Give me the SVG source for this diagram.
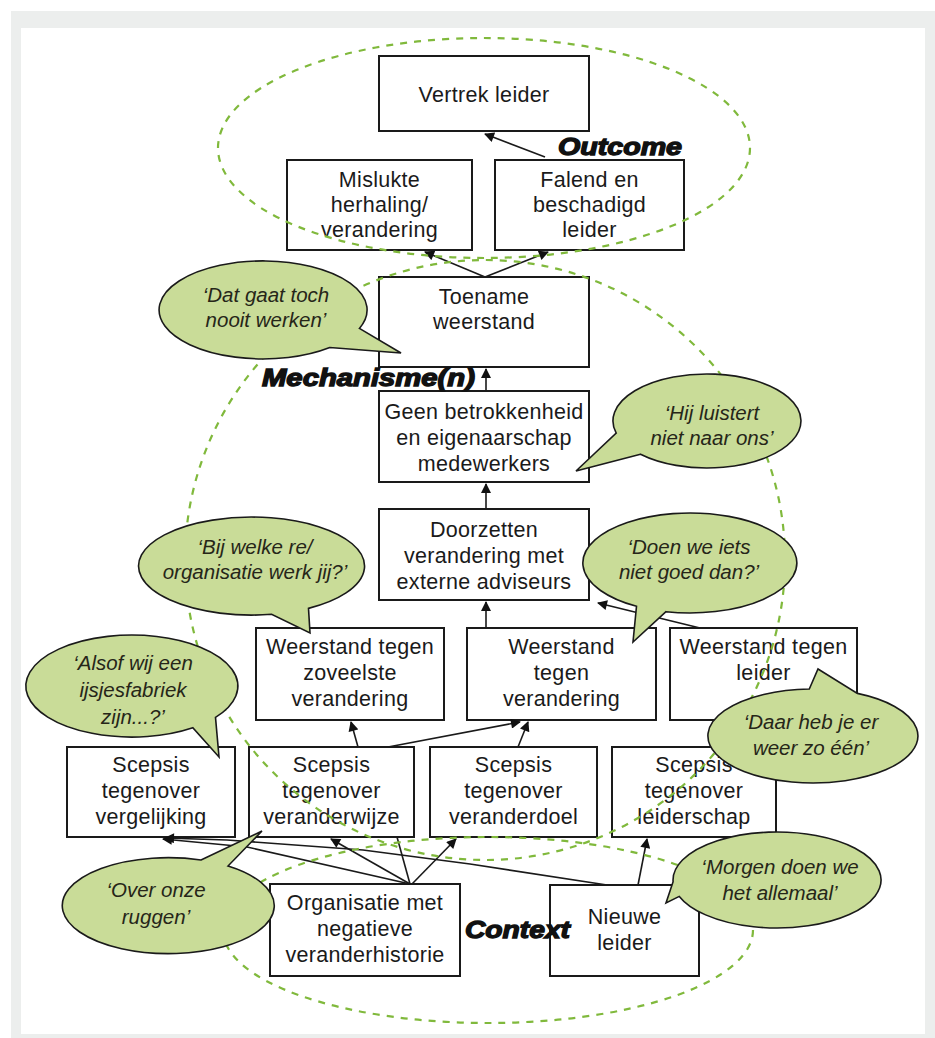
<svg xmlns="http://www.w3.org/2000/svg" width="935" height="1038" viewBox="0 0 935 1038">
<defs>
<style>
.box{fill:#fff;stroke:#1a1a1a;stroke-width:2}
.t{font-family:"Liberation Sans",Arial,sans-serif;font-size:21.5px;fill:#1a1a1a;text-anchor:middle;letter-spacing:0.3px}
.q{font-family:"Liberation Sans",Arial,sans-serif;font-style:italic;font-size:20.5px;fill:#262618;text-anchor:middle}
.bub{fill:#c9dc98;stroke:#1a1a1a;stroke-width:1.6}
.zone{fill:none;stroke:#80b93c;stroke-width:2.2;stroke-dasharray:7 7}
.lbl{font-family:"Liberation Sans",Arial,sans-serif;font-weight:bold;font-style:italic;font-size:23px;fill:#111;stroke:#111;stroke-width:1.3}
.c{fill:none;stroke:#1a1a1a;stroke-width:1.6}
.a{marker-end:url(#ah)}
</style>
<marker id="ah" viewBox="0 0 10 10" refX="9" refY="5" markerWidth="11" markerHeight="10" markerUnits="userSpaceOnUse" orient="auto">
<path d="M0,0 L10,5 L0,10 Z" fill="#111"/>
</marker>
</defs>

<rect x="11" y="11" width="924" height="1027" fill="#eceeed"/>
<rect x="21" y="28" width="904" height="1006" fill="#fff"/>

<g id="vertrek"><rect class="box" x="379" y="56" width="210" height="75"/><text class="t" x="484" y="102">Vertrek leider</text></g>
<g id="mislukte"><rect class="box" x="287" y="160" width="185" height="90"/><text class="t" x="379.5" y="187">Mislukte</text><text class="t" x="379.5" y="212">herhaling/</text><text class="t" x="379.5" y="237">verandering</text></g>
<g id="falend"><rect class="box" x="495" y="160" width="189" height="90"/><text class="t" x="589.5" y="187">Falend en</text><text class="t" x="589.5" y="212">beschadigd</text><text class="t" x="589.5" y="237">leider</text></g>
<g id="toename"><rect class="box" x="379" y="277" width="210" height="90"/><text class="t" x="484" y="304">Toename</text><text class="t" x="484" y="329">weerstand</text></g>
<g id="geen"><rect class="box" x="379" y="391" width="210" height="91"/><text class="t" x="484" y="419">Geen betrokkenheid</text><text class="t" x="484" y="445">en eigenaarschap</text><text class="t" x="484" y="471">medewerkers</text></g>
<g id="doorzetten"><rect class="box" x="379" y="509" width="210" height="91"/><text class="t" x="484" y="537">Doorzetten</text><text class="t" x="484" y="563">verandering met</text><text class="t" x="484" y="589">externe adviseurs</text></g>
<g id="w-zoveelste"><rect class="box" x="256" y="628" width="188" height="92"/><text class="t" x="350" y="654">Weerstand tegen</text><text class="t" x="350" y="680">zoveelste</text><text class="t" x="350" y="706">verandering</text></g>
<g id="w-verandering"><rect class="box" x="467" y="628" width="189" height="92"/><text class="t" x="561.5" y="654">Weerstand</text><text class="t" x="561.5" y="680">tegen</text><text class="t" x="561.5" y="706">verandering</text></g>
<g id="w-leider"><rect class="box" x="670" y="628" width="187" height="92"/><text class="t" x="763.5" y="654">Weerstand tegen</text><text class="t" x="763.5" y="680">leider</text></g>
<g id="s-vergelijking"><rect class="box" x="67" y="747" width="168" height="90"/><text class="t" x="151" y="772">Scepsis</text><text class="t" x="151" y="798">tegenover</text><text class="t" x="151" y="824">vergelijking</text></g>
<g id="s-veranderwijze"><rect class="box" x="249" y="747" width="165" height="90"/><text class="t" x="331.5" y="772">Scepsis</text><text class="t" x="331.5" y="798">tegenover</text><text class="t" x="331.5" y="824">veranderwijze</text></g>
<g id="s-veranderdoel"><rect class="box" x="430" y="747" width="167" height="90"/><text class="t" x="513.5" y="772">Scepsis</text><text class="t" x="513.5" y="798">tegenover</text><text class="t" x="513.5" y="824">veranderdoel</text></g>
<g id="s-leiderschap"><rect class="box" x="612" y="747" width="164" height="90"/><text class="t" x="694" y="772">Scepsis</text><text class="t" x="694" y="798">tegenover</text><text class="t" x="694" y="824">leiderschap</text></g>
<g id="organisatie"><rect class="box" x="270" y="884" width="190" height="92"/><text class="t" x="365" y="910">Organisatie met</text><text class="t" x="365" y="936">negatieve</text><text class="t" x="365" y="962">veranderhistorie</text></g>
<g id="nieuwe-leider"><rect class="box" x="550" y="885" width="149" height="91"/><text class="t" x="624.5" y="924">Nieuwe</text><text class="t" x="624.5" y="950">leider</text></g>

<g id="connectors">
<path class="c a" d="M545,157 L485,134"/>
<path class="c a" d="M485,277 L425,252"/>
<path class="c a" d="M485,277 L548,252"/>
<path class="c a" d="M486,391 L486,369"/>
<path class="c a" d="M486,509 L486,484"/>
<path class="c a" d="M486,628 L486,602"/>
<path class="c a" d="M700,628 L598,603"/>
<path class="c a" d="M358,747 L351,722"/>
<path class="c a" d="M388,747 L520,722"/>
<path class="c a" d="M518,747 L528,722"/>
<path class="c a" d="M410,884 L331,839"/>
<path class="c a" d="M412,884 L456,839"/>
<path class="c" d="M410,884 L397,837"/>
<path class="c a" d="M410,884 L247,847 L163,839"/>
<path class="c a" d="M638,885 L647,839"/>
<path class="c a" d="M607,885 L470,864 L363,850 L227,840 L165,838"/>
</g>

<g id="zones">
<ellipse class="zone" cx="484" cy="148" rx="266" ry="110"/>
<ellipse class="zone" cx="485" cy="560" rx="300" ry="300"/>
<ellipse class="zone" cx="488" cy="930" rx="265" ry="93"/>
</g>

<g id="bubble-dat-gaat">
<path class="bub" d="M359.4,328.4 L401,353 L329.8,347.5 A104,49 0 1 1 359.4,328.4 Z"/>
<text class="q" x="266" y="302">‘Dat gaat toch</text><text class="q" x="266" y="327">nooit werken’</text>
</g>
<g id="bubble-hij-luistert">
<path class="bub" d="M640.5,454.2 L576,471 L616.2,433.2 A94,47 0 1 1 640.5,454.2 Z"/>
<text class="q" x="712" y="420">‘Hij luistert</text><text class="q" x="712" y="445">niet naar ons’</text>
</g>
<g id="bubble-bij-welke">
<path class="bub" d="M308.5,608.4 L310,633 L271.6,614.3 A113,49 0 1 1 308.5,608.4 Z"/>
<text class="q" x="255" y="554">‘Bij welke re/</text><text class="q" x="255" y="579">organisatie werk jij?’</text>
</g>
<g id="bubble-doen-we">
<path class="bub" d="M666,611.7 L633,642 L636.5,606.3 A107,50 0 1 1 666,611.7 Z"/>
<text class="q" x="689" y="554">‘Doen we iets</text><text class="q" x="689" y="579">niet goed dan?’</text>
</g>
<g id="bubble-alsof">
<path class="bub" d="M215.5,717.4 L219,757 L192.8,727.8 A106,51 0 1 1 215.5,717.4 Z"/>
<text class="q" x="133" y="670">‘Alsof wij een</text><text class="q" x="133" y="697">ijsjesfabriek</text><text class="q" x="133" y="724">zijn...?’</text>
</g>
<g id="bubble-daar-heb">
<path class="bub" d="M809.3,689 L818,669 L857.4,693.4 A105,47 0 1 1 809.3,689 Z"/>
<text class="q" x="811" y="729">‘Daar heb je er</text><text class="q" x="811" y="755">weer zo één’</text>
</g>
<g id="bubble-over-onze">
<path class="bub" d="M201,860 L262,831 L228,866 A106,48 0 1 1 201,860 Z"/>
<text class="q" x="156" y="897">‘Over onze</text><text class="q" x="156" y="924">ruggen’</text>
</g>
<g id="bubble-morgen">
<path class="bub" d="M679.3,896.4 L666,903 L673.1,881.7 A104,48 0 1 1 679.3,896.4 Z"/>
<text class="q" x="780" y="874">‘Morgen doen we</text><text class="q" x="780" y="900">het allemaal’</text>
</g>

<g id="labels">
<text class="lbl" x="558" y="155" textLength="124" lengthAdjust="spacingAndGlyphs">Outcome</text>
<text class="lbl" x="262" y="386" textLength="213" lengthAdjust="spacingAndGlyphs">Mechanisme(n)</text>
<text class="lbl" x="465" y="938" textLength="105" lengthAdjust="spacingAndGlyphs">Context</text>
</g>
</svg>
